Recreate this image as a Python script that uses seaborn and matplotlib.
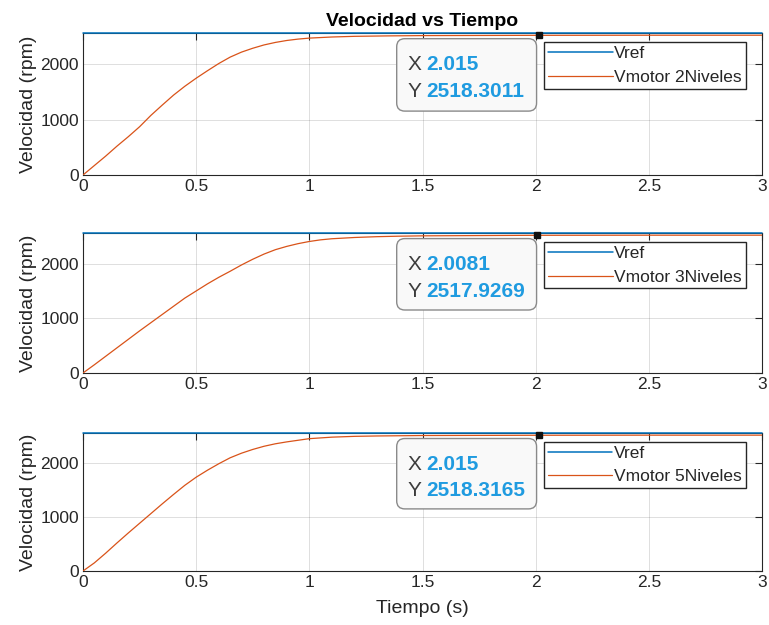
import matplotlib
matplotlib.use("Agg")
import numpy as np
import pandas as pd
import seaborn as sns
import matplotlib.pyplot as plt
from matplotlib.patches import FancyBboxPatch

# ---------------- data ----------------
t_ref = [0.0, 3.0]
v_ref = [2560, 2560]

t_2n = [0, 0.05, 0.1, 0.15, 0.2, 0.25, 0.3, 0.35, 0.4, 0.45, 0.5, 0.55, 0.6, 0.65, 0.7,
        0.75, 0.8, 0.85, 0.9, 0.95, 1.0, 1.1, 1.2, 1.35, 1.5, 2.0, 2.5, 3.0]
v_2n = [0, 170, 340, 520, 690, 870, 1075, 1260, 1440, 1600, 1745, 1880, 2010, 2125, 2215,
        2285, 2345, 2390, 2425, 2450, 2468, 2488, 2500, 2508, 2513, 2518, 2520, 2520]

t_3n = [0, 0.05, 0.1, 0.15, 0.2, 0.25, 0.3, 0.35, 0.4, 0.45, 0.5, 0.55, 0.6, 0.65, 0.7,
        0.75, 0.8, 0.85, 0.9, 0.95, 1.0, 1.05, 1.1, 1.2, 1.3, 1.4, 1.5, 2.0, 2.5, 3.0]
v_3n = [0, 150, 305, 460, 615, 770, 920, 1070, 1220, 1370, 1500, 1630, 1750, 1860, 1975,
        2080, 2175, 2255, 2315, 2365, 2405, 2435, 2455, 2478, 2493, 2502, 2508, 2518,
        2520, 2520]

t_5n = [0, 0.05, 0.1, 0.15, 0.2, 0.25, 0.3, 0.35, 0.4, 0.45, 0.5, 0.55, 0.6, 0.65, 0.7,
        0.75, 0.8, 0.85, 0.9, 0.95, 1.0, 1.1, 1.2, 1.3, 1.5, 2.0, 2.5, 3.0]
v_5n = [0, 150, 330, 520, 705, 885, 1065, 1245, 1420, 1590, 1740, 1870, 1990, 2100, 2185,
        2255, 2314, 2360, 2395, 2425, 2455, 2483, 2498, 2505, 2513, 2518, 2520, 2520]

motor_labels = ["Vmotor 2Niveles", "Vmotor 3Niveles", "Vmotor 5Niveles"]
tip_x = [2.015, 2.0081, 2.015]
tip_y = [2518.3011, 2517.9269, 2518.3165]
tip_x_text = ["2.015", "2.0081", "2.015"]
tip_y_text = ["2518.3011", "2517.9269", "2518.3165"]

x_ticks = [0, 0.5, 1, 1.5, 2, 2.5, 3]
x_tick_labels = ["0", "0.5", "1", "1.5", "2", "2.5", "3"]
y_ticks = [0, 1000, 2000]
y_tick_labels = ["0", "1000", "2000"]

title = "Velocidad vs Tiempo"
xlabel = "Tiempo (s)"
ylabel = "Velocidad (rpm)"

# ---------------- style ----------------
sns.set_style("white")
plt.rcParams["font.family"] = ["Liberation Sans", "DejaVu Sans"]

C_REF = "#0072BD"
C_MOT = "#D95319"
DARK = "#262626"

W, H = 769, 625
fig = plt.figure(figsize=(W / 100, H / 100), dpi=100)
fig.patch.set_facecolor("white")

# axes pixel boxes: (left, top, right, bottom)
boxes = [(83, 33, 762, 175), (83, 233, 762, 373), (83, 433, 762, 571)]

motors = [(t_2n, v_2n), (t_3n, v_3n), (t_5n, v_5n)]

for i, (l, tp, r, b) in enumerate(boxes):
    ax = fig.add_axes([l / W, 1 - b / H, (r - l) / W, (b - tp) / H])
    tm, vm = motors[i]
    df_ref = pd.DataFrame({"t": t_ref, "v": v_ref})
    df_mot = pd.DataFrame({"t": tm, "v": vm})
    sns.lineplot(data=df_mot, x="t", y="v", ax=ax, color=C_MOT, lw=0.9,
                 label=motor_labels[i], estimator=None, sort=False, zorder=3)
    sns.lineplot(data=df_ref, x="t", y="v", ax=ax, color=C_REF, lw=1.1,
                 label="Vref", estimator=None, sort=False, zorder=4, clip_on=False)
    ax.set_xlim(0, 3)
    ax.set_ylim(0, 2560)
    ax.set_xticks(x_ticks)
    ax.set_xticklabels(x_tick_labels)
    ax.set_yticks(y_ticks)
    ax.set_yticklabels(y_tick_labels)
    ax.grid(True, color=DARK, alpha=0.15, lw=0.7)
    ax.tick_params(direction="in", top=True, right=True, length=5, width=0.8,
                   colors=DARK, labelsize=12.5, pad=3)
    for s in ax.spines.values():
        s.set_color(DARK)
        s.set_linewidth(0.8)
    ax.set_ylabel(ylabel, fontsize=14, color=DARK, labelpad=2)
    ax.set_xlabel(xlabel if i == 2 else "", fontsize=14, color=DARK, labelpad=7)
    if i == 0:
        ax.set_title(title, fontsize=14, fontweight="bold", color="black", pad=5)

    # legend (Vref first)
    handles, labels = ax.get_legend_handles_labels()
    order = [labels.index("Vref"), labels.index(motor_labels[i])]
    leg = ax.legend([handles[k] for k in order], [labels[k] for k in order],
                    loc="upper right", bbox_to_anchor=(0.976, 0.937),
                    frameon=True, fancybox=False, edgecolor=DARK, framealpha=1,
                    borderaxespad=0, handlelength=3.7, handletextpad=0.1,
                    fontsize=12.5, labelspacing=0.5, borderpad=0.22)
    leg.get_frame().set_linewidth(1.0)
    for txt in leg.get_texts():
        txt.set_color(DARK)

    # data tip
    axw, axh = (r - l), (b - tp)
    box = FancyBboxPatch((0.462, 0.45), 0.206, 0.51,
                         boxstyle="round,pad=0,rounding_size=0.012",
                         mutation_aspect=axw / axh,
                         transform=ax.transAxes, fc="#f9f9f9", ec="#8a8a8a",
                         lw=1.0, zorder=6)
    ax.add_patch(box)
    ax.plot([tip_x[i]], [tip_y[i]], "s", color="#111111", ms=5, zorder=7,
            clip_on=False)
    ax.text(0.478, 0.775, "X", transform=ax.transAxes, fontsize=15,
            color="#3c3c3c", va="center", ha="left", zorder=8)
    ax.text(0.506, 0.775, tip_x_text[i], transform=ax.transAxes, fontsize=15,
            color="#1f9be0", fontweight="bold", va="center", ha="left", zorder=8)
    ax.text(0.478, 0.585, "Y", transform=ax.transAxes, fontsize=15,
            color="#3c3c3c", va="center", ha="left", zorder=8)
    ax.text(0.506, 0.585, tip_y_text[i], transform=ax.transAxes, fontsize=15,
            color="#1f9be0", fontweight="bold", va="center", ha="left", zorder=8)

fig.savefig("out.png", dpi=100, facecolor="white")
